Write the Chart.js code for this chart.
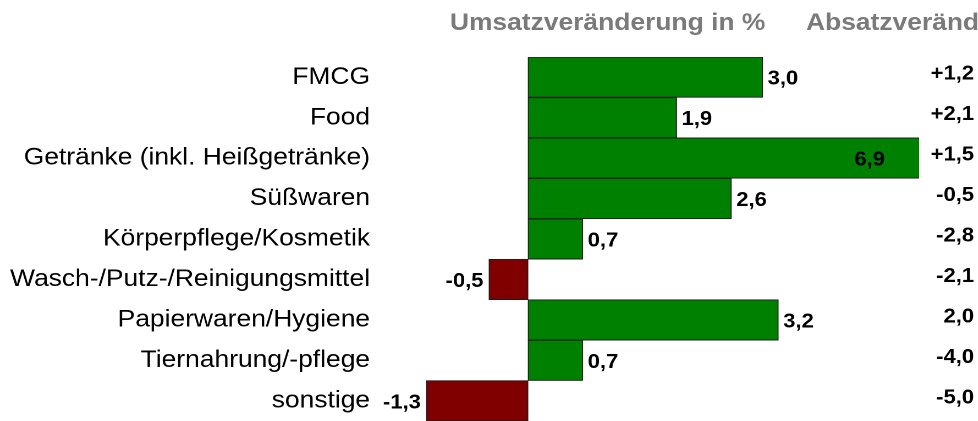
<!DOCTYPE html>
<html>
<head>
<meta charset="utf-8">
<script src="https://cdn.jsdelivr.net/npm/chart.js@4.4.0/dist/chart.umd.min.js"></script>
<style>
  html, body { margin: 0; padding: 0; background: #fff; overflow: hidden; }
  #wrap { width: 889px; height: 421px; transform: scaleX(1.1); transform-origin: 0 0; }
</style>
</head>
<body>
<div id="wrap"><canvas id="c" width="889" height="421" style="width:889px;height:421px"></canvas></div>
<script>
const categories = ['FMCG', 'Food', 'Getränke (inkl. Heißgetränke)', 'Süßwaren', 'Körperpflege/Kosmetik',
  'Wasch-/Putz-/Reinigungsmittel', 'Papierwaren/Hygiene', 'Tiernahrung/-pflege', 'sonstige'];
const umsatz = [3.0, 1.9, 6.9, 2.6, 0.7, -0.5, 3.2, 0.7, -1.3];
const absatzLabels = ['+1,2', '+2,1', '+1,5', '-0,5', '-2,8', '-2,1', '2,0', '-4,0', '-5,0'];
const headers = ['Umsatzveränderung in %', 'Absatzveränderung in %'];

const FONT = "'Liberation Sans', Arial, sans-serif";
const fmt = v => v.toFixed(1).replace('.', ',');

// Werte an den Balken, rechte Spalte und Überschriften
const labelPlugin = {
  id: 'labels',
  afterDatasetsDraw(chart) {
    const ctx = chart.ctx;
    const area = chart.chartArea;
    const meta = chart.getDatasetMeta(0);
    const yScale = chart.scales.y;
    ctx.save();
    ctx.fillStyle = '#000';
    ctx.font = 'bold 20px ' + FONT;
    ctx.textBaseline = 'middle';
    meta.data.forEach((bar, i) => {
      const v = umsatz[i];
      const txt = fmt(v);
      if (bar.x > area.right) {
        ctx.textAlign = 'right';
        ctx.fillText(txt, area.right - 31, bar.y + 2);
      } else if (v >= 0) {
        ctx.textAlign = 'left';
        ctx.fillText(txt, bar.x + 4.5, bar.y + 2);
      } else {
        ctx.textAlign = 'right';
        ctx.fillText(txt, bar.x - 5, bar.y + 2);
      }
    });
    ctx.textAlign = 'right';
    absatzLabels.forEach((t, i) => {
      ctx.fillText(t, 885.5, yScale.getPixelForValue(i) - 3);
    });
    ctx.fillStyle = '#7a7a7a';
    ctx.font = 'bold 24px ' + FONT;
    ctx.textAlign = 'left';
    ctx.textBaseline = 'alphabetic';
    ctx.fillText(headers[0], 409, 30);
    ctx.fillText(headers[1], 732.7, 30);
    ctx.restore();
  }
};

new Chart(document.getElementById('c'), {
  type: 'bar',
  data: {
    labels: categories,
    datasets: [{
      data: umsatz,
      backgroundColor: umsatz.map(v => v < 0 ? '#800000' : '#008000'),
      borderColor: '#1e1e1e',
      borderWidth: 1,
      borderSkipped: false,
      barPercentage: 1,
      categoryPercentage: 1
    }]
  },
  options: {
    indexAxis: 'y',
    responsive: false,
    animation: false,
    devicePixelRatio: 2,
    layout: { padding: { top: 57, right: 53.5, bottom: 0, left: 0 } },
    plugins: { legend: { display: false }, tooltip: { enabled: false } },
    scales: {
      x: {
        display: false,
        min: -1.5,
        max: 5
      },
      y: {
        afterFit: scale => {
          scale.width = 373.4;
          scale.paddingTop = 0;
          scale.paddingBottom = 0;
        },
        grid: { display: false, drawTicks: false },
        border: { display: false },
        ticks: {
          color: '#000',
          padding: 37,
          font: { family: FONT, size: 24 }
        }
      }
    }
  },
  plugins: [labelPlugin]
});
</script>
</body>
</html>
